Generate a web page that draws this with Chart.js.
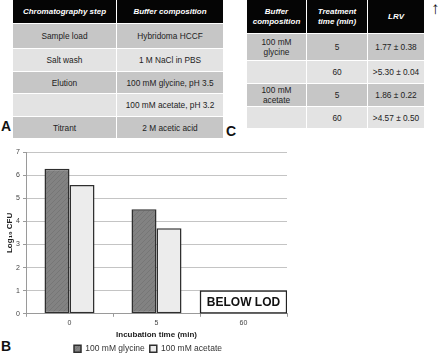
<!DOCTYPE html>
<html>
<head>
<meta charset="utf-8">
<script src="https://cdn.jsdelivr.net/npm/chart.js@4/dist/chart.umd.min.js"></script>
<style>
  html,body{margin:0;padding:0;background:#fff;}
  body{width:440px;height:356px;position:relative;overflow:hidden;font-family:"Liberation Sans",Arial,sans-serif;}
  .cell{position:absolute;display:flex;align-items:center;justify-content:center;text-align:center;
        font-size:8.3px;line-height:10px;color:#222;white-space:pre-line;box-sizing:border-box;}
  .hdr{background:#050505;color:#fff;font-weight:bold;font-style:italic;font-size:8px;}
  .dark{background:#c6c6c6;}
  .light{background:#e3e3e3;}
  .lbl{position:absolute;font-weight:bold;font-size:14px;color:#111;line-height:14px;}
  #chartWrap{position:absolute;left:0;top:140px;width:300px;height:223px;}
</style>
</head>
<body>
<div id="tables"></div>
<div class="lbl" style="left:1px;top:119px;">A</div>
<div class="lbl" style="left:226px;top:124px;">C</div>
<div class="lbl" style="left:1px;top:339px;">B</div>
<div class="lbl" style="left:431px;top:0px;font-weight:normal;font-size:17px;line-height:17px;">↑</div>
<div id="chartWrap"><canvas id="c" width="300" height="223"></canvas></div>
<script>
// ---------- DATA ----------
// Table A
const tableAHeaders = ['Chromatography step', 'Buffer composition'];
const tableASteps   = ['Sample load', 'Salt wash', 'Elution', '', 'Titrant'];
const tableABuffers = ['Hybridoma HCCF', '1 M NaCl in PBS', '100 mM glycine, pH 3.5', '100 mM acetate, pH 3.2', '2 M acetic acid'];

// Table C
const tableCHeaders = ['Buffer\ncomposition', 'Treatment\ntime (min)', 'LRV'];
const tableCBuffers = ['100 mM\nglycine', '', '100 mM\nacetate', ''];
const tableCTimes   = ['5', '60', '5', '60'];
const tableCLRV     = ['1.77 ± 0.38', '>5.30 ± 0.04', '1.86 ± 0.22', '>4.57 ± 0.50'];

// Chart B
const categories   = ['0', '5', '60'];
const glycineLog   = [6.28, 4.52, null];
const acetateLog   = [5.57, 3.70, null];
const belowLodLog  = [null, null, 1];
const seriesNames  = ['100 mM glycine', '100 mM acetate'];
const lodLabel     = 'BELOW LOD';
const yMin = 0, yMax = 7, yStep = 1;
const xTitle = 'Incubation time (min)';
const yTitle = 'Log\u2081\u2080 CFU';

// ---------- TABLES (layout) ----------
const tablesEl = document.getElementById('tables');
function buildTable(colEdges, rowEdges, headers, columns) {
  const nRows = rowEdges.length - 1;
  for (let r = 0; r < nRows; r++) {
    for (let c = 0; c < colEdges.length - 1; c++) {
      const d = document.createElement('div');
      d.className = 'cell ' + (r === 0 ? 'hdr' : (r % 2 === 1 ? 'dark' : 'light'));
      d.style.left = colEdges[c] + 'px';
      d.style.top = rowEdges[r] + 'px';
      d.style.width = (colEdges[c + 1] - colEdges[c] - 1) + 'px';
      d.style.height = (rowEdges[r + 1] - rowEdges[r] - 1) + 'px';
      d.textContent = r === 0 ? headers[c] : columns[c][r - 1];
      tablesEl.appendChild(d);
    }
  }
}
buildTable([13, 117, 224], [0, 24, 49, 72, 94, 117, 139], tableAHeaders, [tableASteps, tableABuffers]);
buildTable([247, 307, 368, 425], [0, 34, 61, 84, 107, 129], tableCHeaders, [tableCBuffers, tableCTimes, tableCLRV]);

// ---------- CHART ----------
function hatchPattern() {
  const c = document.createElement('canvas');
  c.width = 5; c.height = 5;
  const g = c.getContext('2d');
  g.fillStyle = '#828282';
  g.fillRect(0, 0, 5, 5);
  g.strokeStyle = '#767676';
  g.lineWidth = 1;
  g.beginPath();
  g.moveTo(-1, 6); g.lineTo(6, -1);
  g.moveTo(-1, 1); g.lineTo(1, -1);
  g.moveTo(4, 6); g.lineTo(6, 4);
  g.stroke();
  return g.createPattern(c, 'repeat');
}

const lodTextPlugin = {
  id: 'lodText',
  afterDatasetsDraw(chart) {
    const ctx = chart.ctx;
    const meta = chart.getDatasetMeta(2);
    meta.data.forEach((el, i) => {
      if (belowLodLog[i] == null) return;
      const p = el.getProps(['x', 'y', 'base'], true);
      ctx.save();
      ctx.font = 'bold 12px "Liberation Sans", Arial, sans-serif';
      ctx.fillStyle = '#111';
      ctx.textAlign = 'center';
      ctx.textBaseline = 'middle';
      ctx.fillText(lodLabel, p.x, (p.y + p.base) / 2 + 0.5);
      ctx.restore();
    });
  }
};

const FONT = '"Liberation Sans", Arial, sans-serif';
new Chart(document.getElementById('c'), {
  type: 'bar',
  data: {
    labels: categories,
    datasets: [
      { label: seriesNames[0], data: glycineLog, backgroundColor: hatchPattern(), borderColor: '#2e2e2e', borderWidth: 1.5, borderSkipped: false, categoryPercentage: 0.575, barPercentage: 1 },
      { label: seriesNames[1], data: acetateLog, backgroundColor: '#ececec', borderColor: '#2e2e2e', borderWidth: 1.5, borderSkipped: false, categoryPercentage: 0.575, barPercentage: 1 },
      { label: lodLabel, data: belowLodLog, grouped: false, backgroundColor: '#ffffff', borderColor: '#222', borderWidth: 1.5, borderSkipped: false, categoryPercentage: 1, barPercentage: 1 }
    ]
  },
  options: {
    responsive: false,
    devicePixelRatio: 1,
    animation: false,
    layout: { padding: { top: 12, right: 13, left: 9, bottom: 0 } },
    plugins: {
      tooltip: { enabled: false },
      legend: {
        position: 'bottom',
        labels: {
          filter: (item) => item.datasetIndex < 2,
          boxWidth: 7, boxHeight: 7, padding: 5,
          color: '#333',
          font: { family: FONT, size: 8.5 }
        }
      }
    },
    scales: {
      x: {
        offset: true,
        grid: { drawOnChartArea: false, drawTicks: true, tickLength: 3, color: '#9a9a9a', offset: true },
        border: { color: '#9a9a9a' },
        ticks: { color: '#444', font: { family: FONT, size: 7 }, padding: 2 },
        title: { display: true, text: xTitle, color: '#222', font: { family: FONT, size: 8, weight: 'bold' }, padding: 0 },
        afterFit(s) { s.height = 25.7; }
      },
      y: {
        min: yMin, max: yMax,
        ticks: { stepSize: yStep, color: '#444', font: { family: FONT, size: 7 }, padding: 3 },
        grid: { color: '#c4c4c4', tickLength: 3, tickColor: '#9a9a9a' },
        border: { color: '#9a9a9a' },
        title: { display: true, text: yTitle, color: '#222', font: { family: FONT, size: 8, weight: 'bold' }, padding: { top: -4, bottom: 0 } },
        afterFit(s) { s.width = 17; }
      }
    }
  },
  plugins: [lodTextPlugin]
});
</script>
</body>
</html>
